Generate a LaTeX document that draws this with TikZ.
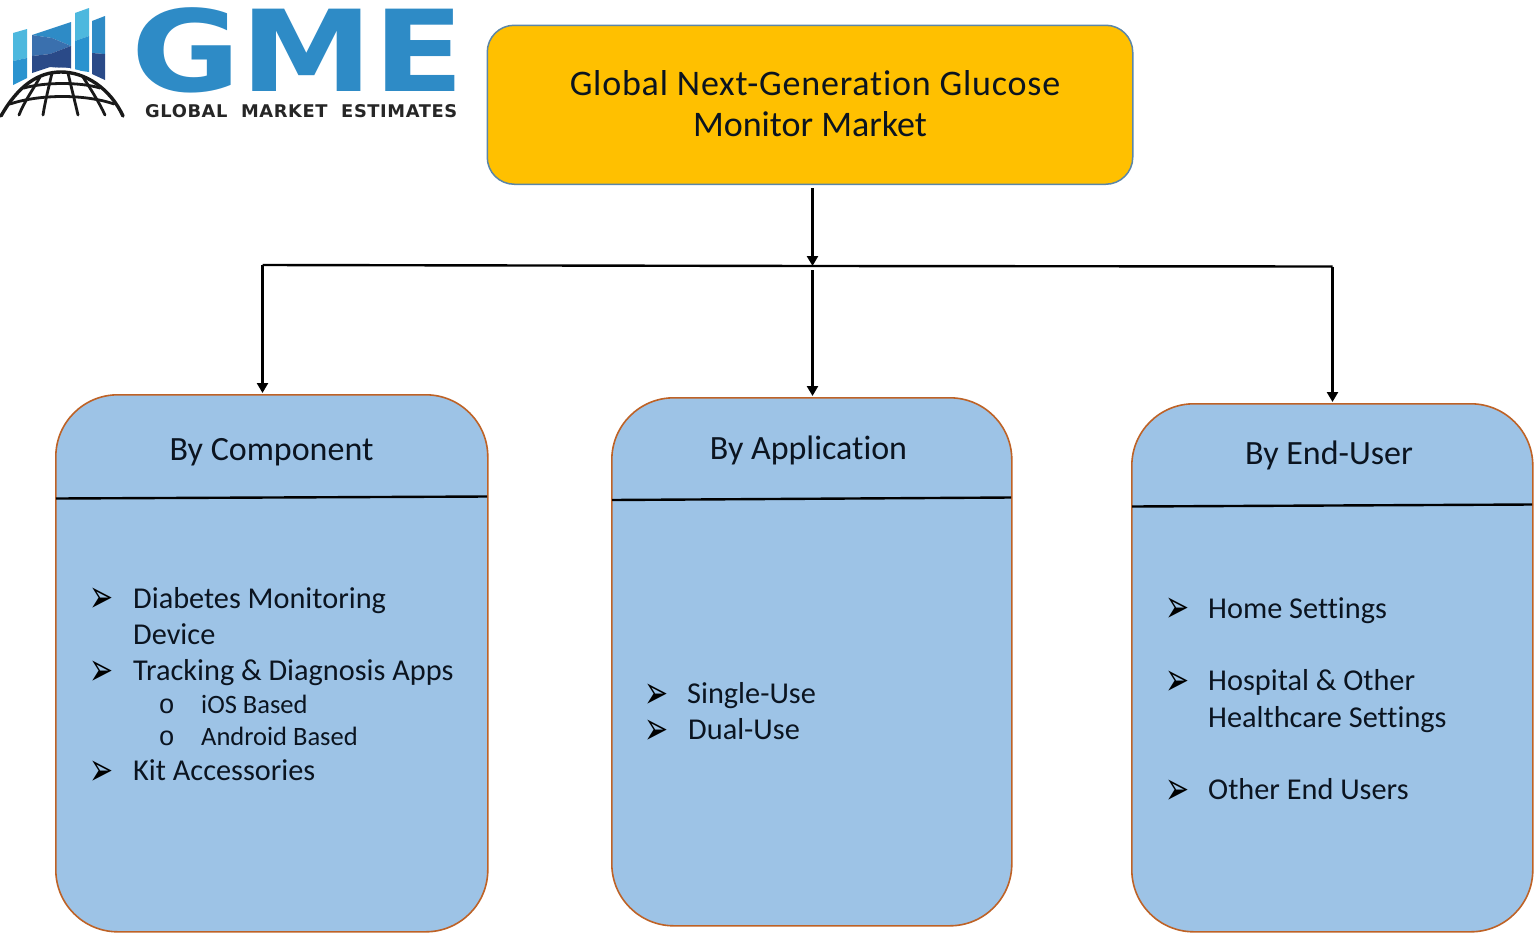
\documentclass[tikz,border=0pt]{standalone}
\usepackage{fontspec}
\setmainfont[Ligatures=NoCommon]{Carlito}
\newfontfamily\bulletfont{DejaVu Sans}
\newfontfamily\ringfont{Liberation Mono}
\newfontfamily\logofont[FakeStretch=1.18]{DejaVu Sans Bold}
\newfontfamily\logosubfont[FakeStretch=1.02,LetterSpace=3.4]{DejaVu Sans Bold}
\newfontfamily\titlefont[Ligatures=NoCommon,LetterSpace=2.2]{Carlito}
\usetikzlibrary{arrows.meta}
\definecolor{cardfill}{HTML}{9DC3E6}
\definecolor{cardline}{HTML}{BE6226}
\definecolor{titlefill}{HTML}{FFC000}
\definecolor{titleline}{HTML}{5B86A8}
\definecolor{inktext}{HTML}{0B1420}
\definecolor{logoblue}{HTML}{2E8BC6}
\definecolor{logolight}{HTML}{4DB8DE}
\definecolor{logomid}{HTML}{2A93CF}
\definecolor{logosteel}{HTML}{3A70AE}
\definecolor{logonavy}{HTML}{2A4A88}
\newcommand{\arrowmark}{\scalebox{1.25}[2]{➢}}
\tikzset{
  x=1pt,y=-1pt,
  card/.style={draw=cardline,line width=1.6pt,fill=cardfill,rounded corners=62pt,anchor=north west,inner sep=0pt},
  titlebox/.style={draw=titleline,line width=1.5pt,fill=titlefill,rounded corners=27pt,anchor=north west,inner sep=0pt},
  divider/.style={black,line width=2.4pt},
  conn/.style={black,line width=2.4pt},
  arrowconn/.style={conn,-{Triangle[length=10pt,width=11pt]}},
  titletext/.style={font=\fontsize{36}{36}\selectfont,text=inktext,anchor=base,inner sep=0pt},
  headtext/.style={font=\fontsize{34}{34}\selectfont,text=inktext,anchor=base,inner sep=0pt},
  itemtext/.style={font=\fontsize{30.3}{30.3}\selectfont,text=inktext,anchor=base west,inner sep=0pt},
  subtext/.style={font=\fontsize{26.5}{26.5}\selectfont,text=inktext,anchor=base west,inner sep=0pt},
  arrowbullet/.style={font=\bulletfont\fontsize{23}{23}\selectfont,text=black,anchor=base west,inner sep=0pt},
  ringbullet/.style={font=\ringfont\fontsize{27}{27}\selectfont,text=inktext,anchor=base west,inner sep=0pt},
  globe/.style={draw=black!90,line width=3.4pt,line cap=round},
  globeline/.style={draw=black!90,line width=2.8pt,line cap=round},
}
\begin{document}
\begin{tikzpicture}
\useasboundingbox (0,0) rectangle (1534,932);
\fill[white] (0,0) rectangle (1534,932);

% logo bars
\fill[logolight] (13,33) -- (27,29) -- (27,58) -- (13,61) -- cycle;
\fill[logomid] (13,61) -- (27,58) -- (27,78) -- (13,85) -- cycle;
\fill[logoblue] (32,35) -- (71,22) -- (71,46) -- (52,38) -- cycle;
\fill[logosteel] (32,35) -- (52,38) -- (71,46) -- (50,54) -- (32,56) -- cycle;
\fill[logonavy] (32,56) -- (50,54) -- (71,46) -- (71,69) -- (50,67) -- (32,73) -- cycle;
\fill[logolight] (75,13) -- (89,8) -- (89,36) -- (75,41) -- cycle;
\fill[logomid] (75,41) -- (89,36) -- (89,72) -- (75,70) -- cycle;
\fill[logoblue] (92,21) -- (105,16) -- (105,54) -- (92,53) -- cycle;
\fill[logonavy] (92,53) -- (105,54) -- (105,80) -- (92,74) -- cycle;
% logo globe
\draw[white,line width=7pt] (1,116) .. controls (18,86) and (38,71) .. (61,71) .. controls (85,71) and (110,88) .. (123,116);
\draw[globe] (1,116) .. controls (18,86) and (38,72) .. (61,72) .. controls (85,72) and (110,88) .. (123,116);
\draw[globeline] (24,88) .. controls (45,82) and (80,82) .. (100,88);
\draw[globeline] (10,104) .. controls (40,94) and (85,94) .. (114,104);
\draw[globeline] (40,77) .. controls (34,88) and (24,102) .. (19,115);
\draw[globeline] (52,73) .. controls (49,86) and (45,102) .. (43,115);
\draw[globeline] (68,73) .. controls (71,86) and (75,102) .. (78,115);
\draw[globeline] (83,77) .. controls (90,88) and (99,102) .. (105,115);

% logo words
\node[text=logoblue,inner sep=0pt,anchor=base west,font=\logofont\fontsize{113}{113}\selectfont] (gme) at (131,91) {GME};
\node[text=black!85,inner sep=0pt,anchor=base west,font=\logosubfont\fontsize{17.5}{17.5}\selectfont] (gmesub) at (145,117) {GLOBAL\ \ MARKET\ \ ESTIMATES};

% title box
\node[titlebox,minimum width=645.5pt,minimum height=159pt] (top) at (486.5,24.5) {};
\node[titletext] (t1) at (815,95) {\titlefont Global Next-Generation Glucose};
\node[titletext] (t2) at (810,136) {Monitor Market};

% cards
\node[card,minimum width=432pt,minimum height=537pt] (c1) at (55,394) {};
\node[card,minimum width=400pt,minimum height=528pt] (c2) at (611,397) {};
\node[card,minimum width=401pt,minimum height=528pt] (c3) at (1131,403) {};

% dividers
\coordinate (d1a) at (56,498.5); \coordinate (d1b) at (487,496.5);
\coordinate (d2a) at (612,500); \coordinate (d2b) at (1011,497.5);
\coordinate (d3a) at (1132,506.5); \coordinate (d3b) at (1532,504.5);
\draw[divider] (d1a) -- (d1b);
\draw[divider] (d2a) -- (d2b);
\draw[divider] (d3a) -- (d3b);

% connectors
\coordinate (topout) at (812.5,188);
\coordinate (busmid) at (812.5,266);
\coordinate (busl) at (262.5,265);
\coordinate (busr) at (1332.5,266.5);
\coordinate (midout) at (812.5,270);
\coordinate (inl) at (262.5,393);
\coordinate (inm) at (812.5,396);
\coordinate (inr) at (1332.5,402);
\draw[arrowconn] (topout) -- (busmid);
\draw[conn] (busl) -- (busmid) -- (busr);
\draw[arrowconn] (busl) -- (inl);
\draw[arrowconn] (midout) -- (inm);
\draw[arrowconn] (busr) -- (inr);

% heads
\node[headtext] (h1) at (271.5,460) {By Component};
\node[headtext] (h2) at (808.5,459) {By Application};
\node[headtext] (h3) at (1329,464.5) {By End-User};

% card 1
\node[arrowbullet] (b11) at (89.5,612) {\arrowmark};
\node[itemtext] (i11) at (133,608.3) {Diabetes Monitoring};
\node[itemtext] (i12) at (133,644.3) {Device};
\node[arrowbullet] (b12) at (89.5,685) {\arrowmark};
\node[itemtext] (i13) at (133,680.7) {Tracking \& Diagnosis Apps};
\node[ringbullet] (r1) at (158.5,713.5) {o};
\node[subtext] (s1) at (201,713.5) {iOS Based};
\node[ringbullet] (r2) at (158.5,745.7) {o};
\node[subtext] (s2) at (201,745.7) {Android Based};
\node[arrowbullet] (b13) at (89.5,785) {\arrowmark};
\node[itemtext] (i14) at (133,780.7) {Kit Accessories};

% card 2
\node[arrowbullet] (b21) at (644,708) {\arrowmark};
\node[itemtext] (i21) at (687,703.3) {Single-Use};
\node[arrowbullet] (b22) at (644,744) {\arrowmark};
\node[itemtext] (i22) at (688,739.3) {Dual-Use};

% card 3
\node[arrowbullet] (b31) at (1165,622) {\arrowmark};
\node[itemtext] (i31) at (1208,618.3) {Home Settings};
\node[arrowbullet] (b32) at (1165,695) {\arrowmark};
\node[itemtext] (i32) at (1208,690.7) {Hospital \& Other};
\node[itemtext] (i33) at (1208,727.3) {Healthcare Settings};
\node[arrowbullet] (b33) at (1165,804) {\arrowmark};
\node[itemtext] (i34) at (1208,799.7) {Other End Users};
\end{tikzpicture}
\end{document}
